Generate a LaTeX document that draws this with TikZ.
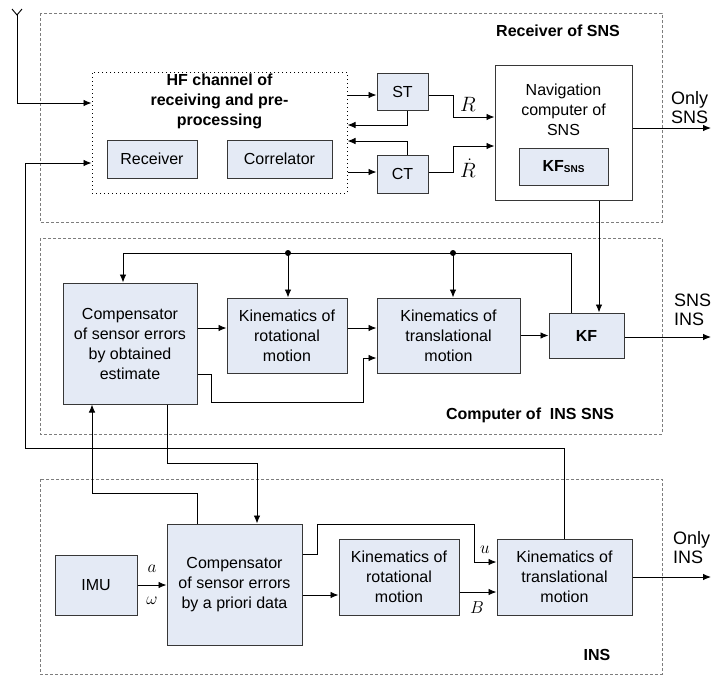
\documentclass[tikz,border=0pt]{standalone}
\usepackage{fontspec}
\setmainfont{Liberation Sans}
\usetikzlibrary{arrows.meta,calc}
\definecolor{boxfill}{RGB}{228,234,245}
\definecolor{edge}{RGB}{55,55,55}
\definecolor{contgray}{RGB}{125,125,125}
\begin{document}
\begin{tikzpicture}[x=1pt,y=-1pt,
  font=\fontsize{16}{20}\selectfont,
  blk/.style={draw=edge, line width=1pt, fill=boxfill, inner sep=0pt, align=center},
  wblk/.style={draw=edge, line width=1pt, fill=white, inner sep=0pt},
  cont/.style={draw=contgray, line width=0.7pt, dash pattern=on 3pt off 2pt},
  dotbox/.style={draw=black, line width=1pt, dash pattern=on 1pt off 3pt, inner sep=0pt},
  arr/.style={-{Latex[length=8pt,width=6.5pt]}, line width=0.9pt, draw=black},
  ln/.style={line width=0.9pt, draw=black},
  ttl/.style={font=\fontsize{16}{20}\selectfont\bfseries, align=center},
  mlab/.style={font=\fontsize{20.74}{22}\selectfont, inner sep=0pt},
  slab/.style={font=\fontsize{17.28}{18}\selectfont, inner sep=0pt},
  olab/.style={anchor=west, align=left, inner sep=0pt, font=\fontsize{18}{19}\selectfont}]
\useasboundingbox (0,0) rectangle (712,675);
\fill[white] (0,0) rectangle (712,675);

% containers
\draw[cont] (40,13) rectangle (662,222);
\draw[cont] (40,238) rectangle (662,434);
\draw[cont] (40,479) rectangle (662,674);

\node[ttl] at (558,31) {Receiver of SNS};
\node[ttl] at (530,415) {Computer of \ INS SNS};
\node[ttl] at (597,655) {INS};

% receiver of SNS
\node[dotbox, minimum width=255pt, minimum height=121pt] (hf) at (219.5,132.5) {};
\node[ttl] at (219.5,101) {HF channel of\\receiving and pre-\\processing};
\node[blk, minimum width=90pt, minimum height=38pt] (rcv) at (152,159) {Receiver};
\node[blk, minimum width=105pt, minimum height=38pt] (cor) at (279.5,159) {Correlator};
\node[blk, minimum width=51pt, minimum height=37pt] (st) at (402.5,91.5) {ST};
\node[blk, minimum width=51pt, minimum height=38pt] (ct) at (402.5,174) {CT};
\node[wblk, minimum width=137pt, minimum height=135pt] (nav) at (563.5,132.5) {};
\node[align=center] (navt) at (563.5,110) {Navigation\\computer of\\SNS};
\node[blk, minimum width=89pt, minimum height=37pt] (kfs) at (563.5,166.5) {\textbf{KF}{\fontsize{10}{12}\selectfont\bfseries\raisebox{-1.5pt}{SNS}}};

% computer of INS SNS
\node[blk, minimum width=134pt, minimum height=121pt] (comp1) at (130,343.5) {Compensator\\of sensor errors\\by obtained\\estimate};
\node[blk, minimum width=120pt, minimum height=75pt] (kr1) at (287,335.5) {Kinematics of\\rotational\\motion};
\node[blk, minimum width=143pt, minimum height=75pt] (kt1) at (448.5,335.5) {Kinematics of\\translational\\motion};
\node[blk, minimum width=75pt, minimum height=45pt, font=\fontsize{16}{20}\selectfont\bfseries] (kf) at (586.5,335.5) {KF};

% INS
\node[blk, minimum width=82pt, minimum height=60pt] (imu) at (96,585) {IMU};
\node[blk, minimum width=135pt, minimum height=121pt] (comp2) at (234.5,584.5) {Compensator\\of sensor errors\\by a priori data};
\node[blk, minimum width=120pt, minimum height=76pt] (kr2) at (399,577) {Kinematics of\\rotational\\motion};
\node[blk, minimum width=135pt, minimum height=76pt] (kt2) at (564.5,577) {Kinematics of\\translational\\motion};

% antenna
\coordinate (ant) at (17,15);
\draw[ln] (12,9) -- (ant) -- (22,9);
\draw[arr] (ant) |- (hf.west |- 0,103);

% loop from INS translational kinematics to HF channel
\draw[arr] (kt2.north) |- (25,448) |- (hf.west |- 0,163);

% HF <-> ST / CT
\draw[arr] (hf.east |- 0,95) -- (st.west |- 0,95);
\draw[arr] (hf.east |- 0,172) -- (ct.west |- 0,172);
\draw[arr] (st.south -| 407,0) |- (hf.east |- 0,125);
\draw[arr] (ct.north -| 407,0) |- (hf.east |- 0,141);

% ST / CT -> navigation computer
\draw[arr] (st.east |- 0,95) -| (453,117) -- (nav.west |- 0,117);
\draw[arr] (ct.east |- 0,172) -| (453,146) -- (nav.west |- 0,146);
\node[mlab] at (468,104) {$R$};
\node[mlab] at (468,168) {$\dot R$};

% outputs
\coordinate (o1) at (711,128);
\coordinate (o2) at (711,337);
\coordinate (o3) at (711,577);
\draw[arr] (nav.east |- o1) -- (o1);
\draw[arr] (kf.east |- o2) -- (o2);
\draw[arr] (kt2.east) -- (o3);
\node[olab] at (671,108) {Only\\SNS};
\node[olab] at (674,310) {SNS\\INS};
\node[olab] at (673,548) {Only\\INS};

% nav -> KF
\draw[arr] (nav.south -| 599,0) -- (kf.north -| 599,0);

% KF feedback bus
\coordinate (d1) at (288,253);
\coordinate (d2) at (453,253);
\draw[arr] (kf.north -| 571,0) |- (123,253) -- (comp1.north -| 123,0);
\draw[arr] (d1) -- (kr1.north -| d1);
\draw[arr] (d2) -- (kt1.north -| d2);
\fill (d1) circle (3pt);
\fill (d2) circle (3pt);

% computer internal
\draw[arr] (comp1.east |- 0,328) -- (kr1.west |- 0,328);
\draw[arr] (kr1.east |- 0,328) -- (kt1.west |- 0,328);
\draw[arr] (comp1.east |- 0,374) -| (211,402) -| (363,358) -- (kt1.west |- 0,358);
\draw[arr] (kt1.east |- kf.west) -- (kf.west);

% between computer and INS
\draw[arr] (comp1.south -| 167,0) |- (257,463) -- (comp2.north -| 257,0);
\draw[arr] (comp2.north -| 197,0) |- (92,493) -- (comp1.south -| 92,0);

% INS internal
\draw[arr] (imu.east) -- (comp2.west |- imu.east);
\node[slab] at (152,569) {$a$};
\node[slab] at (152,601) {$\omega$};
\draw[arr] (comp2.east |- 0,595) -- (kr2.west |- 0,595);
\draw[arr] (comp2.east |- 0,554) -| (317,524) -| (474,562) -- (kt2.west |- 0,562);
\draw[arr] (kr2.east |- 0,592) -- (kt2.west |- 0,592);
\node[slab] at (485,550) {$u$};
\node[slab] at (477,608) {$B$};
\end{tikzpicture}
\end{document}
